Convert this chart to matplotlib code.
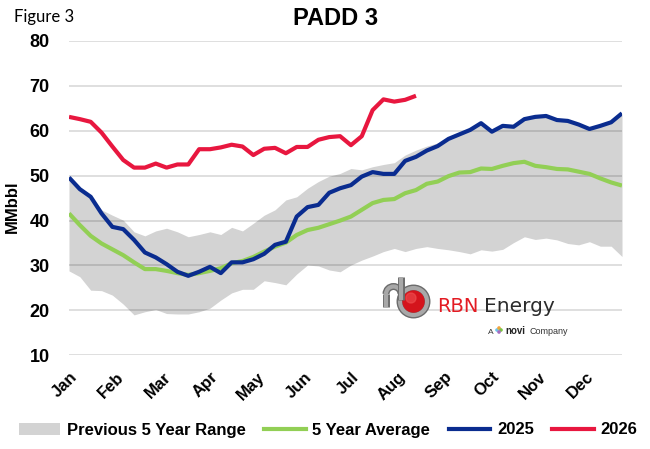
import matplotlib
matplotlib.use("Agg")
import matplotlib.pyplot as plt
import numpy as np
from matplotlib.patches import Circle, Arc, Patch
from matplotlib.lines import Line2D

months = ["Jan", "Feb", "Mar", "Apr", "May", "Jun", "Jul", "Aug", "Sep", "Oct", "Nov", "Dec"]

range_low = [28.8, 27.5, 24.5, 24.4, 23.4, 21.4, 19.0, 19.7, 20.2, 19.3,
             19.2, 19.2, 19.7, 20.5, 22.3, 23.9, 24.7, 24.7, 26.6, 26.2,
             25.7, 28.1, 30.1, 29.9, 29.0, 28.6, 30.1, 31.2, 32.1, 33.1,
             33.8, 33.1, 33.8, 34.2, 33.8, 33.5, 33.1, 32.6, 33.5, 33.2,
             33.6, 35.1, 36.4, 35.8, 36.1, 35.7, 34.9, 34.6, 35.3, 34.3,
             34.3, 32.0]
range_high = [49.6, 47.2, 45.6, 42.4, 41.2, 40.1, 37.5, 36.6, 37.7, 38.3,
              37.5, 36.4, 36.9, 37.5, 36.9, 38.5, 37.7, 39.4, 41.2, 42.4,
              44.6, 45.3, 47.2, 48.7, 49.9, 50.5, 51.6, 51.3, 52.0, 52.5,
              52.9, 54.6, 55.7, 56.6, 57.3, 58.2, 59.2, 60.2, 61.7, 59.8,
              61.1, 60.9, 62.6, 63.1, 63.3, 62.4, 62.2, 61.4, 60.4, 61.1,
              61.9, 63.9]
avg5 = [41.6, 39.0, 36.6, 34.9, 33.6, 32.3, 30.7, 29.2, 29.2, 28.8,
        28.3, 27.9, 28.3, 28.8, 29.4, 30.5, 31.0, 31.9, 33.1, 34.2,
        35.1, 36.8, 37.9, 38.4, 39.2, 40.0, 40.9, 42.4, 43.9, 44.6,
        44.8, 46.1, 46.8, 48.2, 48.7, 49.9, 50.7, 50.8, 51.6, 51.5,
        52.2, 52.8, 53.1, 52.2, 51.9, 51.5, 51.4, 50.9, 50.4, 49.4,
        48.5, 47.8]
y2025 = [49.6, 47.0, 45.3, 41.6, 38.6, 38.1, 35.7, 32.9, 31.8, 30.3,
         28.6, 27.7, 28.6, 29.7, 28.3, 30.7, 30.7, 31.4, 32.6, 34.6,
         35.3, 40.9, 43.0, 43.5, 46.2, 47.2, 47.9, 49.8, 50.8, 50.4,
         50.4, 53.3, 54.2, 55.6, 56.6, 58.2, 59.2, 60.2, 61.7, 59.8,
         61.1, 60.9, 62.6, 63.1, 63.3, 62.4, 62.2, 61.4, 60.4, 61.1,
         61.9, 63.9]
y2026 = [63.1, 62.6, 62.0, 59.6, 56.5, 53.5, 51.8, 51.8, 52.7, 51.8,
         52.5, 52.5, 55.9, 55.9, 56.3, 56.9, 56.5, 54.6, 56.0, 56.2,
         55.0, 56.4, 56.4, 58.0, 58.6, 58.8, 56.8, 58.8, 64.6, 67.0,
         66.5, 66.9, 67.8]
yticks = [10, 20, 30, 40, 50, 60, 70, 80]

C_FILL = "#d3d3d3"
C_AVG = "#92cf55"
C_25 = "#0a2c8f"
C_26 = "#e8173f"

plt.rcParams["font.family"] = ["Liberation Sans", "DejaVu Sans"]

W, H = 650, 449
fig = plt.figure(figsize=(W / 100, H / 100), dpi=100)
ax = fig.add_axes([69 / W, 1 - 355.3 / H, (622 - 69) / W, (355.3 - 41) / H])

wk = np.arange(len(range_low))
ax.fill_between(wk, range_low, range_high, color=C_FILL, lw=0, zorder=1)
ax.plot(wk, avg5, color=C_AVG, lw=3, zorder=3, solid_capstyle="butt")
ax.plot(wk, y2025, color=C_25, lw=3, zorder=4, solid_capstyle="butt")
ax.plot(np.arange(len(y2026)), y2026, color=C_26, lw=3, zorder=5, solid_capstyle="butt")

ax.set_xlim(0, len(wk) - 1)
ax.set_ylim(10, 80)
ax.set_yticks(yticks)
ax.set_yticklabels([str(v) for v in yticks], fontsize=13, fontweight="bold")
ax.yaxis.grid(True, color="black", alpha=0.15, lw=1.2, zorder=2)
ax.set_axisbelow(False)
for ln in ax.get_ygridlines():
    ln.set_zorder(2)
ax.tick_params(axis="y", length=0, pad=14)
xt = [k * len(wk) / 12 for k in range(12)]
ax.set_xticks(xt)
ax.set_xticklabels(months, fontsize=12, fontweight="bold", rotation=45,
                   ha="right", rotation_mode="anchor")
ax.tick_params(axis="x", length=0, pad=10)
for s in ax.spines.values():
    s.set_visible(False)

ax.set_ylabel("MMbbl", fontsize=12, fontweight="bold")
ax.yaxis.set_label_coords(-(69 - 20) / 553, 0.472)

fig.text(336 / W, 1 - 18.5 / H, "PADD 3", fontsize=17, fontweight="bold",
         ha="center", va="center")
fig.text(14 / W, 1 - 17 / H, "Figure 3", fontsize=12, family="Lato",
         ha="left", va="center")

handles = [Patch(facecolor=C_FILL, edgecolor="none"),
           Line2D([], [], color=C_AVG, lw=3),
           Line2D([], [], color=C_25, lw=3),
           Line2D([], [], color=C_26, lw=3)]
labels = ["Previous 5 Year Range", "5 Year Average", "2025", "2026"]
fig.legend(handles, labels, loc="center", bbox_to_anchor=(328 / W, 1 - 430 / H),
           ncol=4, frameon=False, prop={"weight": "bold", "size": 12},
           handlelength=2.5, handletextpad=0.4, columnspacing=1.1,
           borderaxespad=0)

# logo
lax = fig.add_axes([370 / W, 1 - 340 / H, 210 / W, 70 / H])
lax.set_xlim(370, 580)
lax.set_ylim(340, 270)
lax.axis("off")
for lw, col in [(5.0, "#6b6b6b"), (3.0, "#a8a8a8")]:
    lax.add_patch(Circle((413.5, 301.5), 13.5, fill=False, edgecolor=col, lw=lw))
    lax.plot([401, 401], [277, 300], color=col, lw=lw, solid_capstyle="butt")
    lax.add_patch(Arc((393.5, 294), 15, 15, theta1=180, theta2=360, edgecolor=col, lw=lw))
    lax.plot([386, 386], [294, 307], color=col, lw=lw, solid_capstyle="butt")
lax.add_patch(Circle((413.5, 301.5), 10.5, color="#d4141c"))
lax.add_patch(Circle((411, 298), 5, color="#f05050", alpha=0.6))
lax.text(437, 312, "RBN", color="#e31b23", fontsize=14, family="DejaVu Sans", va="baseline")
lax.text(484, 312, "Energy", color="#2b2b2b", fontsize=14.5, family="DejaVu Sans", va="baseline")
lax.text(488, 334, "A", color="#333333", fontsize=6, va="baseline")
for dx, dy, c in [(0, 0, "#6cc4e8"), (2, -2, "#f2a33a"), (4, 0, "#7ac143"), (2, 2, "#a36bc2")]:
    lax.add_patch(Circle((497 + dx, 330 + dy), 1.1, color=c))
lax.text(505, 334, "novi", color="#222222", fontsize=7, fontweight="bold", va="baseline")
lax.text(530, 334, "Company", color="#333333", fontsize=6.5, va="baseline")

fig.savefig("out.png", dpi=100)
